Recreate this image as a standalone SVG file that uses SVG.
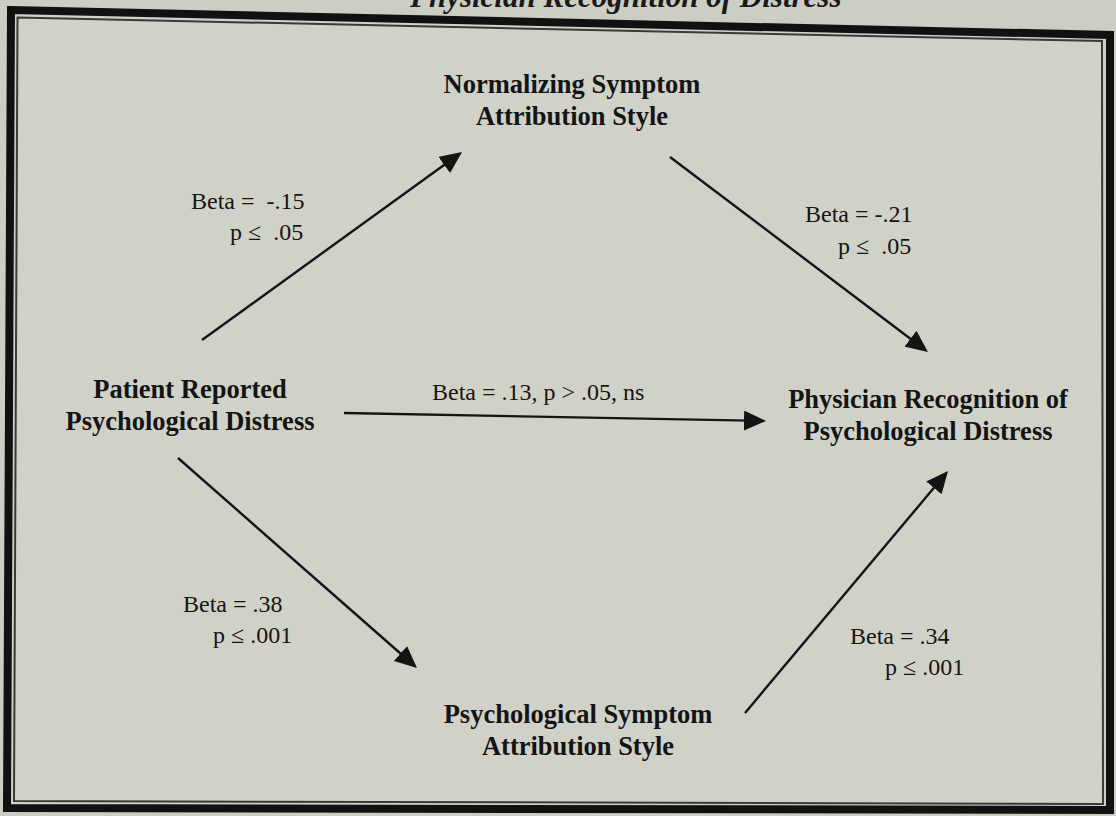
<svg xmlns="http://www.w3.org/2000/svg" width="1116" height="816" viewBox="0 0 1116 816">
<defs>
<style>
.node{font-family:"Liberation Serif","Times New Roman",serif;font-weight:bold;font-size:26.5px;fill:#141414;text-anchor:middle}
.lbl{font-family:"Liberation Serif","Times New Roman",serif;font-size:24px;fill:#141414}
.title{font-family:"Liberation Serif","Times New Roman",serif;font-weight:bold;font-style:italic;font-size:31px;fill:#1a1a1a}
.conn{stroke:#141414;stroke-width:2.4;fill:none;marker-end:url(#ah)}
</style>
<marker id="ah" viewBox="0 0 22 20" refX="19" refY="10" markerWidth="22" markerHeight="20" markerUnits="userSpaceOnUse" orient="auto">
<path d="M0,0 L22,10 L0,20 z" fill="#141414"/>
</marker>
</defs>
<rect x="0" y="0" width="1116" height="816" fill="#cdcec3"/>
<g id="title">
<text class="title" x="410" y="7">Physician Recognition of Distress<tspan font-size="18" dy="-10">1</tspan></text>
</g>
<g id="frame">
<polygon points="11,10 1110,35 1110,810 7,808" fill="#d1d2c7" stroke="#111" stroke-width="8" stroke-linejoin="miter"/>
<polygon points="17.5,17.5 1102,41 1103,804 14,801" fill="none" stroke="#3a3a36" stroke-width="2"/>
</g>
<g id="connectors">
<line class="conn" x1="202" y1="340" x2="459.6" y2="153.8"/>
<line class="conn" x1="670" y1="157" x2="925.6" y2="350.2"/>
<line class="conn" x1="344" y1="413" x2="763" y2="420.9"/>
<line class="conn" x1="178" y1="458" x2="414.7" y2="666"/>
<line class="conn" x1="745" y1="713" x2="946.1" y2="473.3"/>
</g>
<g id="labels">
<text class="lbl" x="191" y="209" xml:space="preserve">Beta =  -.15</text>
<text class="lbl" x="230" y="240" xml:space="preserve">p ≤  .05</text>
<text class="lbl" x="805" y="222">Beta = -.21</text>
<text class="lbl" x="838" y="254" xml:space="preserve">p ≤  .05</text>
<text class="lbl" x="432" y="400">Beta = .13, p &gt; .05, ns</text>
<text class="lbl" x="183" y="612">Beta = .38</text>
<text class="lbl" x="213" y="643">p ≤ .001</text>
<text class="lbl" x="850" y="644">Beta = .34</text>
<text class="lbl" x="885" y="675">p ≤ .001</text>
</g>
<g id="node-normalizing">
<text class="node" x="572" y="93">Normalizing Symptom</text>
<text class="node" x="572" y="125">Attribution Style</text>
</g>
<g id="node-patient">
<text class="node" x="190" y="398">Patient Reported</text>
<text class="node" x="190" y="430">Psychological Distress</text>
</g>
<g id="node-physician">
<text class="node" x="928" y="408">Physician Recognition of</text>
<text class="node" x="928" y="440">Psychological Distress</text>
</g>
<g id="node-psychological">
<text class="node" x="578" y="723">Psychological Symptom</text>
<text class="node" x="578" y="755">Attribution Style</text>
</g>
</svg>
